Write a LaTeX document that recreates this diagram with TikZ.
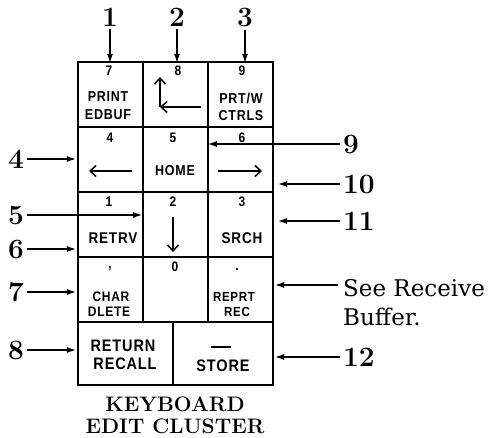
\documentclass[tikz,border=0pt]{standalone}
\usepackage{fontspec}
\usepackage{graphicx}
\usetikzlibrary{arrows.meta}
\newfontfamily\keyfont{Liberation Sans}[LetterSpace=6]
\newfontfamily\digfont{Liberation Sans}
\newfontfamily\seefont{DejaVu Serif}
\newcommand{\kt}[1]{\scalebox{1}[1.15]{#1}}
\begin{document}
\begin{tikzpicture}[x=1pt,y=-1pt,
  cell/.style={draw, line width=2.2pt, inner sep=0pt, minimum width=65pt, minimum height=65pt},
  ktext/.style={inner sep=0pt, font=\keyfont\bfseries\fontsize{13.5}{15}\selectfont},
  ksmall/.style={inner sep=0pt, font=\keyfont\bfseries\fontsize{12.5}{14}\selectfont},
  knarrow/.style={inner sep=0pt, font=\keyfont\bfseries\fontsize{12}{14}\selectfont},
  kbig/.style={inner sep=0pt, font=\keyfont\bfseries\fontsize{14.5}{16}\selectfont},
  kdig/.style={inner sep=0pt, font=\digfont\bfseries\fontsize{12}{14}\selectfont},
  karrow/.style={line width=1.5pt, -{Straight Barb[length=6pt,width=11pt]}},
  lab/.style={inner sep=3pt, font=\bfseries\fontsize{28}{30}\selectfont},
  seetext/.style={inner sep=0pt, anchor=base west, font=\seefont\fontsize{23}{27}\selectfont},
  larrow/.style={line width=2pt, -{Latex[length=10pt,width=6pt]}}]
\useasboundingbox (0,0) rectangle (489,437);

% keys
\node[cell] (k7) at (110.5,94.5) {};
\node[cell] (k8) at (175.5,94.5) {};
\node[cell] (k9) at (240.5,94.5) {};
\node[cell] (k4) at (110.5,159.5) {};
\node[cell] (k5) at (175.5,159.5) {};
\node[cell] (k6) at (240.5,159.5) {};
\node[cell] (k1) at (110.5,224.5) {};
\node[cell] (k2) at (175.5,224.5) {};
\node[cell] (k3) at (240.5,224.5) {};
\node[cell] (kc) at (110.5,289.5) {};
\node[cell] (k0) at (175.5,289.5) {};
\node[cell] (kd) at (240.5,289.5) {};
\node[cell, minimum width=95pt, minimum height=63pt] (kret) at (125.5,353.5) {};
\node[cell, minimum width=100pt, minimum height=63pt] (kst) at (223,353.5) {};

% key digits
\node[kdig] (d7) at (109,71) {\kt{7}};
\node[kdig] (d8) at (178,71) {\kt{8}};
\node[kdig] (d9) at (242,71) {\kt{9}};
\node[kdig] (d4) at (110,138) {\kt{4}};
\node[kdig] (d5) at (173,138) {\kt{5}};
\node[kdig] (d6) at (242,138) {\kt{6}};
\node[kdig] (d1) at (109,202) {\kt{1}};
\node[kdig] (d2) at (173,202) {\kt{2}};
\node[kdig] (d3) at (242,202) {\kt{3}};
\node[kdig, anchor=base] (dcomma) at (110,268) {\kt{,}};
\node[kdig] (d0) at (175,267) {\kt{0}};
\node[kdig, anchor=base] (ddot) at (237,270) {\kt{.}};

% key legends
\node[ksmall] (tprint) at (108,97) {\kt{PRINT}};
\node[ksmall] (tedbuf) at (108,115) {\kt{EDBUF}};
\node[ksmall] (tprtw) at (241,98) {\kt{PRT/W}};
\node[ksmall] (tctrls) at (241,116) {\kt{CTRLS}};
\node[ksmall] (thome) at (175,171) {\kt{HOME}};
\node[ktext] (tretrv) at (113,238) {\kt{RETRV}};
\node[ktext] (tsrch) at (242,238) {\kt{SRCH}};
\node[knarrow] (tchar) at (111,297) {\kt{CHAR}};
\node[knarrow] (tdlete) at (109,312) {\kt{DLETE}};
\node[ksmall, font=\keyfont\bfseries\fontsize{11.5}{13}\selectfont] (treprt) at (234,297) {\kt{REPRT}};
\node[ksmall, font=\keyfont\bfseries\fontsize{11.5}{13}\selectfont] (trec) at (237,312) {\kt{REC}};
\node[kbig] (treturn) at (123,346) {\kt{RETURN}};
\node[kbig] (trecall) at (125,364) {\kt{RECALL}};
\node[kbig] (tstore) at (223,366) {\kt{STORE}};
\node[inner sep=0pt] (tdash) at (221,347) {\rule{20pt}{1.8pt}};

% key arrows
\draw[karrow] (201,107) -- (160,107);
\draw[karrow] (160,107) -- (160,77);
\draw[karrow] (132,171) -- (89,171);
\draw[karrow] (218,171) -- (262,171);
\draw[karrow] (173,217) -- (173,252);

% top labels
\node[lab] (l1) at (110,17) {1};
\node[lab] (l2) at (177,17) {2};
\node[lab] (l3) at (245,17) {3};
\draw[larrow] (l1.south) -- ([yshift=-3pt]k7.north -| l1);
\draw[larrow] (l2.south) -- ([yshift=-3pt]k8.north -| l2);
\draw[larrow] (l3.south) -- ([yshift=-3pt]k9.north -| l3);

% left labels
\node[lab] (l4) at (16,159) {4};
\node[lab] (l5) at (16,215) {5};
\node[lab] (l6) at (16,249) {6};
\node[lab] (l7) at (16,292) {7};
\node[lab] (l8) at (16,350) {8};
\draw[larrow] (l4.east) -- (k4.west |- l4);
\draw[larrow, shorten >=1pt] (l5.east) -- (k1.east |- l5);
\draw[larrow] (l6.east) -- (k1.west |- l6);
\draw[larrow] (l7.east) -- (kc.west |- l7);
\draw[larrow] (l8.east) -- (kret.west |- l8);

% right labels
\node[lab, anchor=west] (l9) at (340,144) {9};
\node[lab, anchor=west] (l10) at (340,184) {10};
\node[lab, anchor=west] (l11) at (340,221) {11};
\node[lab, anchor=west] (l12) at (340,357) {12};
\draw[larrow] (l9.west) -- (k6.west |- l9);
\draw[larrow, shorten >=3pt] (l10.west) -- (k6.east |- l10);
\draw[larrow, shorten >=3pt] (l11.west) -- (k3.east |- l11);
\draw[larrow] (l12.west) -- (kst.east |- l12);

\node[seetext] (see) at (343,296) {See Receive};
\node[seetext] (buf) at (343,325) {Buffer.};
\coordinate (seeA) at (338,285);
\draw[larrow] (seeA) -- (kd.east |- seeA);

% title
\node[inner sep=0pt, anchor=base, font=\bfseries\fontsize{21}{24}\selectfont] (title1) at (175,411) {KEYBOARD};
\node[inner sep=0pt, anchor=base, font=\bfseries\fontsize{21}{24}\selectfont] (title2) at (175,433) {EDIT CLUSTER};
\end{tikzpicture}
\end{document}
